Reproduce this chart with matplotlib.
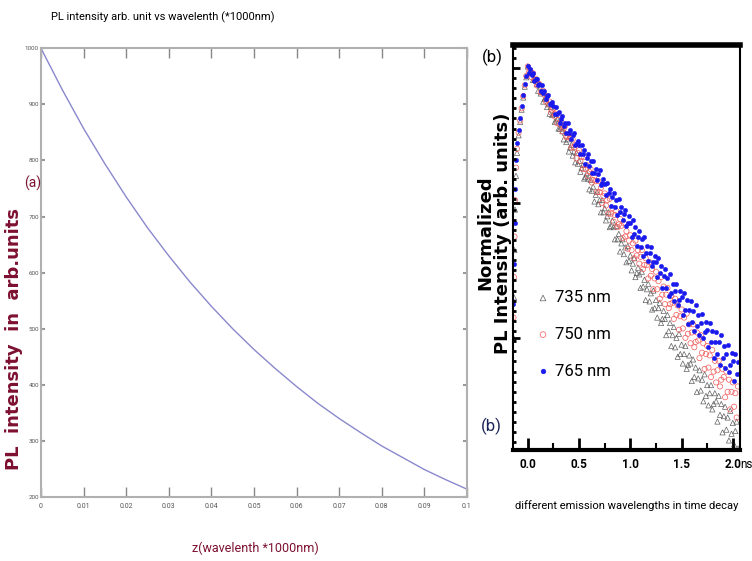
import numpy as np
import matplotlib
matplotlib.use("Agg")
from matplotlib import pyplot as plt
from matplotlib.ticker import MultipleLocator

narrow = ['Roboto', 'DejaVu Sans']

# ---- panel (a): PL intensity vs z ----
z_vals = [0.0, 0.005, 0.01, 0.015, 0.02, 0.025, 0.03, 0.035, 0.04, 0.045, 0.05,
          0.055, 0.06, 0.065, 0.07, 0.075, 0.08, 0.085, 0.09, 0.095, 0.1]
pl_vals = [1000, 926, 857, 794, 735, 680, 630, 583, 540, 500, 463,
           429, 397, 367, 340, 315, 291, 270, 249, 231, 214]
z_ticks = [0, 0.01, 0.02, 0.03, 0.04, 0.05, 0.06, 0.07, 0.08, 0.09, 0.1]
z_tick_labels = ['0', '0.01', '0.02', '0.03', '0.04', '0.05', '0.06', '0.07', '0.08', '0.09', '0.1']
pl_ticks = [200, 300, 400, 500, 600, 700, 800, 900, 1000]

# ---- panel (b): normalized decays, log10 of normalized intensity ----
t_rise = [-0.14, -0.135, -0.13, -0.125, -0.115, -0.105, -0.09, -0.075, -0.06, -0.045, -0.03, -0.015]
rise_735 = [-2.0, -1.7, -1.35, -1.05, -0.80, -0.63, -0.50, -0.40, -0.31, -0.22, -0.14, -0.07]
rise_750 = [-1.85, -1.55, -1.25, -0.98, -0.74, -0.60, -0.48, -0.39, -0.30, -0.21, -0.13, -0.06]
rise_765 = [-1.75, -1.45, -1.15, -0.90, -0.68, -0.56, -0.46, -0.37, -0.28, -0.20, -0.12, -0.06]

# time channels every 12.5 ps from 0 to 2.05 ns
t_decay = np.arange(165) * 0.0125
decay_735 = [
    0.01, -0.04, -0.03, -0.03, -0.09, -0.09, -0.09, -0.12, -0.17, -0.13,
    -0.19, -0.18, -0.25, -0.23, -0.22, -0.29, -0.27, -0.34, -0.29, -0.35,
    -0.34, -0.40, -0.39, -0.38, -0.45, -0.45, -0.44, -0.47, -0.53, -0.48,
    -0.55, -0.53, -0.62, -0.59, -0.57, -0.65, -0.62, -0.70, -0.63, -0.71,
    -0.69, -0.77, -0.74, -0.72, -0.82, -0.81, -0.78, -0.82, -0.90, -0.83,
    -0.91, -0.88, -0.99, -0.94, -0.92, -1.01, -0.98, -1.07, -0.98, -1.07,
    -1.04, -1.13, -1.10, -1.07, -1.18, -1.17, -1.13, -1.18, -1.27, -1.17,
    -1.27, -1.23, -1.36, -1.30, -1.27, -1.38, -1.33, -1.44, -1.32, -1.43,
    -1.39, -1.50, -1.45, -1.41, -1.55, -1.52, -1.48, -1.53, -1.63, -1.51,
    -1.62, -1.57, -1.72, -1.64, -1.60, -1.73, -1.67, -1.79, -1.65, -1.78,
    -1.72, -1.85, -1.78, -1.74, -1.89, -1.86, -1.80, -1.86, -1.98, -1.83,
    -1.95, -1.89, -2.06, -1.98, -1.92, -2.07, -2.00, -2.14, -1.97, -2.12,
    -2.05, -2.19, -2.12, -2.06, -2.23, -2.20, -2.13, -2.19, -2.32, -2.16,
    -2.29, -2.22, -2.40, -2.30, -2.24, -2.39, -2.31, -2.47, -2.27, -2.43,
    -2.35, -2.50, -2.41, -2.35, -2.53, -2.49, -2.41, -2.47, -2.62, -2.43,
    -2.57, -2.49, -2.70, -2.58, -2.51, -2.68, -2.59, -2.76, -2.54, -2.71,
    -2.63, -2.79, -2.69, -2.62, -2.82]
decay_750 = [
    0.01, -0.03, -0.02, -0.07, -0.04, -0.09, -0.08, -0.13, -0.12, -0.12,
    -0.18, -0.18, -0.17, -0.20, -0.25, -0.21, -0.27, -0.25, -0.33, -0.31,
    -0.30, -0.36, -0.34, -0.41, -0.35, -0.42, -0.40, -0.47, -0.45, -0.43,
    -0.51, -0.51, -0.49, -0.52, -0.59, -0.53, -0.59, -0.57, -0.67, -0.63,
    -0.61, -0.69, -0.66, -0.75, -0.66, -0.75, -0.72, -0.80, -0.77, -0.75,
    -0.85, -0.83, -0.80, -0.84, -0.92, -0.84, -0.92, -0.89, -1.00, -0.95,
    -0.93, -1.02, -0.98, -1.08, -0.97, -1.08, -1.04, -1.14, -1.09, -1.06,
    -1.18, -1.16, -1.12, -1.17, -1.26, -1.15, -1.25, -1.21, -1.34, -1.28,
    -1.24, -1.35, -1.30, -1.41, -1.28, -1.39, -1.35, -1.45, -1.40, -1.35,
    -1.49, -1.46, -1.41, -1.46, -1.56, -1.44, -1.54, -1.49, -1.64, -1.56,
    -1.51, -1.64, -1.58, -1.71, -1.55, -1.68, -1.62, -1.75, -1.68, -1.63,
    -1.78, -1.75, -1.69, -1.74, -1.86, -1.71, -1.83, -1.76, -1.94, -1.84,
    -1.79, -1.93, -1.85, -2.00, -1.82, -1.97, -1.90, -2.04, -1.96, -1.90,
    -2.07, -2.03, -1.96, -2.02, -2.15, -1.98, -2.11, -2.04, -2.23, -2.12,
    -2.06, -2.22, -2.13, -2.29, -2.09, -2.25, -2.17, -2.33, -2.24, -2.17,
    -2.36, -2.31, -2.23, -2.29, -2.44, -2.25, -2.40, -2.31, -2.53, -2.40,
    -2.33, -2.51, -2.41, -2.59, -2.36]
decay_765 = [
    0.01, -0.04, -0.01, -0.05, -0.04, -0.10, -0.08, -0.08, -0.13, -0.12,
    -0.17, -0.13, -0.19, -0.17, -0.23, -0.21, -0.20, -0.27, -0.27, -0.25,
    -0.28, -0.34, -0.29, -0.34, -0.33, -0.41, -0.38, -0.36, -0.43, -0.41,
    -0.48, -0.41, -0.48, -0.46, -0.53, -0.50, -0.48, -0.57, -0.56, -0.54,
    -0.57, -0.64, -0.57, -0.64, -0.61, -0.71, -0.67, -0.64, -0.73, -0.69,
    -0.78, -0.69, -0.78, -0.75, -0.83, -0.79, -0.76, -0.87, -0.85, -0.82,
    -0.86, -0.94, -0.85, -0.93, -0.90, -1.02, -0.96, -0.93, -1.03, -0.98,
    -1.09, -0.97, -1.07, -1.03, -1.13, -1.08, -1.05, -1.17, -1.15, -1.10,
    -1.15, -1.25, -1.13, -1.23, -1.18, -1.32, -1.25, -1.21, -1.33, -1.27,
    -1.39, -1.25, -1.37, -1.32, -1.43, -1.37, -1.33, -1.47, -1.44, -1.39,
    -1.44, -1.55, -1.41, -1.52, -1.47, -1.63, -1.54, -1.49, -1.63, -1.56,
    -1.69, -1.53, -1.67, -1.60, -1.73, -1.65, -1.60, -1.76, -1.72, -1.65,
    -1.70, -1.83, -1.67, -1.79, -1.72, -1.90, -1.79, -1.73, -1.88, -1.80,
    -1.95, -1.76, -1.91, -1.83, -1.98, -1.89, -1.82, -2.00, -1.96, -1.88,
    -1.94, -2.07, -1.89, -2.03, -1.95, -2.15, -2.03, -1.96, -2.12, -2.03,
    -2.20, -1.98, -2.15, -2.06, -2.22, -2.12, -2.05, -2.25, -2.20, -2.11,
    -2.17, -2.32, -2.12, -2.27, -2.18]
legend_labels = ['735 nm', '750 nm', '765 nm']
ns_ticks = [0.0, 0.5, 1.0, 1.5, 2.0]
ns_tick_labels = ['0.0', '0.5', '1.0', '1.5', '2.0']

fig = plt.figure(figsize=(7.52, 5.61), dpi=100)

# ---------------- left panel ----------------
axa = fig.add_axes([0.0545, 0.114, 0.5665, 0.800])
axa.plot(z_vals, pl_vals, color='#8a88cc', lw=1.0)
axa.set_xlim(0, 0.1)
axa.set_ylim(200, 1000)
axa.set_xticks(z_ticks)
axa.set_xticklabels(z_tick_labels)
axa.set_yticks(pl_ticks)
axa.set_yticklabels([str(v) for v in pl_ticks])
for s in axa.spines.values():
    s.set_color('#b0b0b0')
    s.set_linewidth(1.5)
axa.tick_params(axis='x', direction='in', length=7, width=1, color='#888888',
                top=True, labelsize=5, labelcolor='#555555', pad=4)
axa.tick_params(axis='y', direction='in', length=3, width=1.5, color='#999999',
                right=True, labelsize=4.5, labelcolor='#555555', pad=1.5)
for lab in axa.get_xticklabels() + axa.get_yticklabels():
    lab.set_family(narrow)

fig.text(0.217, 0.969, 'PL intensity arb. unit vs wavelenth (*1000nm)', ha='center',
         va='center', fontsize=8, family=narrow)
fig.text(0.019, 0.395, 'PL  intensity  in  arb.units', rotation=90, ha='center',
         va='center', fontsize=13, fontweight='bold', color='#7d1030')
fig.text(0.043, 0.674, '(a)', ha='center', va='center', fontsize=10,
         color='#7d1030', family=narrow)
fig.text(0.339, 0.023, 'z(wavelenth *1000nm)', ha='center', va='center',
         fontsize=9, color='#7d1030', family=narrow)

# ---------------- right panel ----------------
axb = fig.add_axes([0.682, 0.198, 0.302, 0.722])
t_all = t_rise + list(t_decay)
axb.scatter(t_all, rise_735 + decay_735, marker='^', s=14,
            facecolors='none', edgecolors='#606060', linewidths=0.5, label=legend_labels[0])
axb.scatter(t_all, rise_750 + decay_750, marker='o', s=14,
            facecolors='none', edgecolors='#f05a5a', linewidths=0.5, label=legend_labels[1])
axb.scatter(t_all, rise_765 + decay_765, marker='o', s=10,
            facecolors='#1a1aee', edgecolors='#1a1aee', linewidths=0.3, label=legend_labels[2])
axb.set_xlim(-0.146, 2.07)
axb.set_ylim(-2.83, 0.17)
axb.set_xticks(ns_ticks)
axb.set_xticklabels(ns_tick_labels)
axb.xaxis.set_minor_locator(MultipleLocator(0.25))
axb.yaxis.set_major_locator(MultipleLocator(1.0))
axb.yaxis.set_minor_locator(MultipleLocator(0.075))
axb.set_yticklabels([])
axb.tick_params(axis='x', which='major', direction='in', length=9, width=2, pad=6,
                labelsize=8.5)
axb.tick_params(axis='x', which='minor', direction='in', length=5, width=1.5)
axb.tick_params(axis='y', which='major', direction='in', length=5, width=2)
axb.tick_params(axis='y', which='minor', direction='in', length=2, width=2)
for lab in axb.get_xticklabels():
    lab.set_fontweight('bold')
    lab.set_family(narrow)
axb.spines['top'].set_linewidth(4)
axb.spines['bottom'].set_linewidth(3)
axb.spines['left'].set_linewidth(1.5)
axb.spines['right'].set_linewidth(1.5)
axb.text(1.0, -0.037, 'ns', transform=axb.transAxes, ha='left', va='center',
         fontsize=8.5, family=narrow)
axb.set_xlabel('different emission wavelengths in time decay', fontsize=8,
               family=narrow, labelpad=21)
fig.text(0.657, 0.585, 'Normalized\nPL Intensity (arb. units)', rotation=90,
         ha='center', va='center', fontsize=13, fontweight='bold',
         linespacing=1.0)
fig.text(0.655, 0.897, '(b)', ha='center', va='center', fontsize=12, family=narrow)
fig.text(0.653, 0.240, '(b)', ha='center', va='center', fontsize=12,
         color='#1a2458', family=narrow)
axb.legend(loc='center left', bbox_to_anchor=(0.03, 0.285), frameon=False,
           handletextpad=0.2, labelspacing=1.3, markerscale=1.1,
           prop={'family': narrow, 'size': 12}, handlelength=1.0)

fig.savefig('out.png', dpi=100)
